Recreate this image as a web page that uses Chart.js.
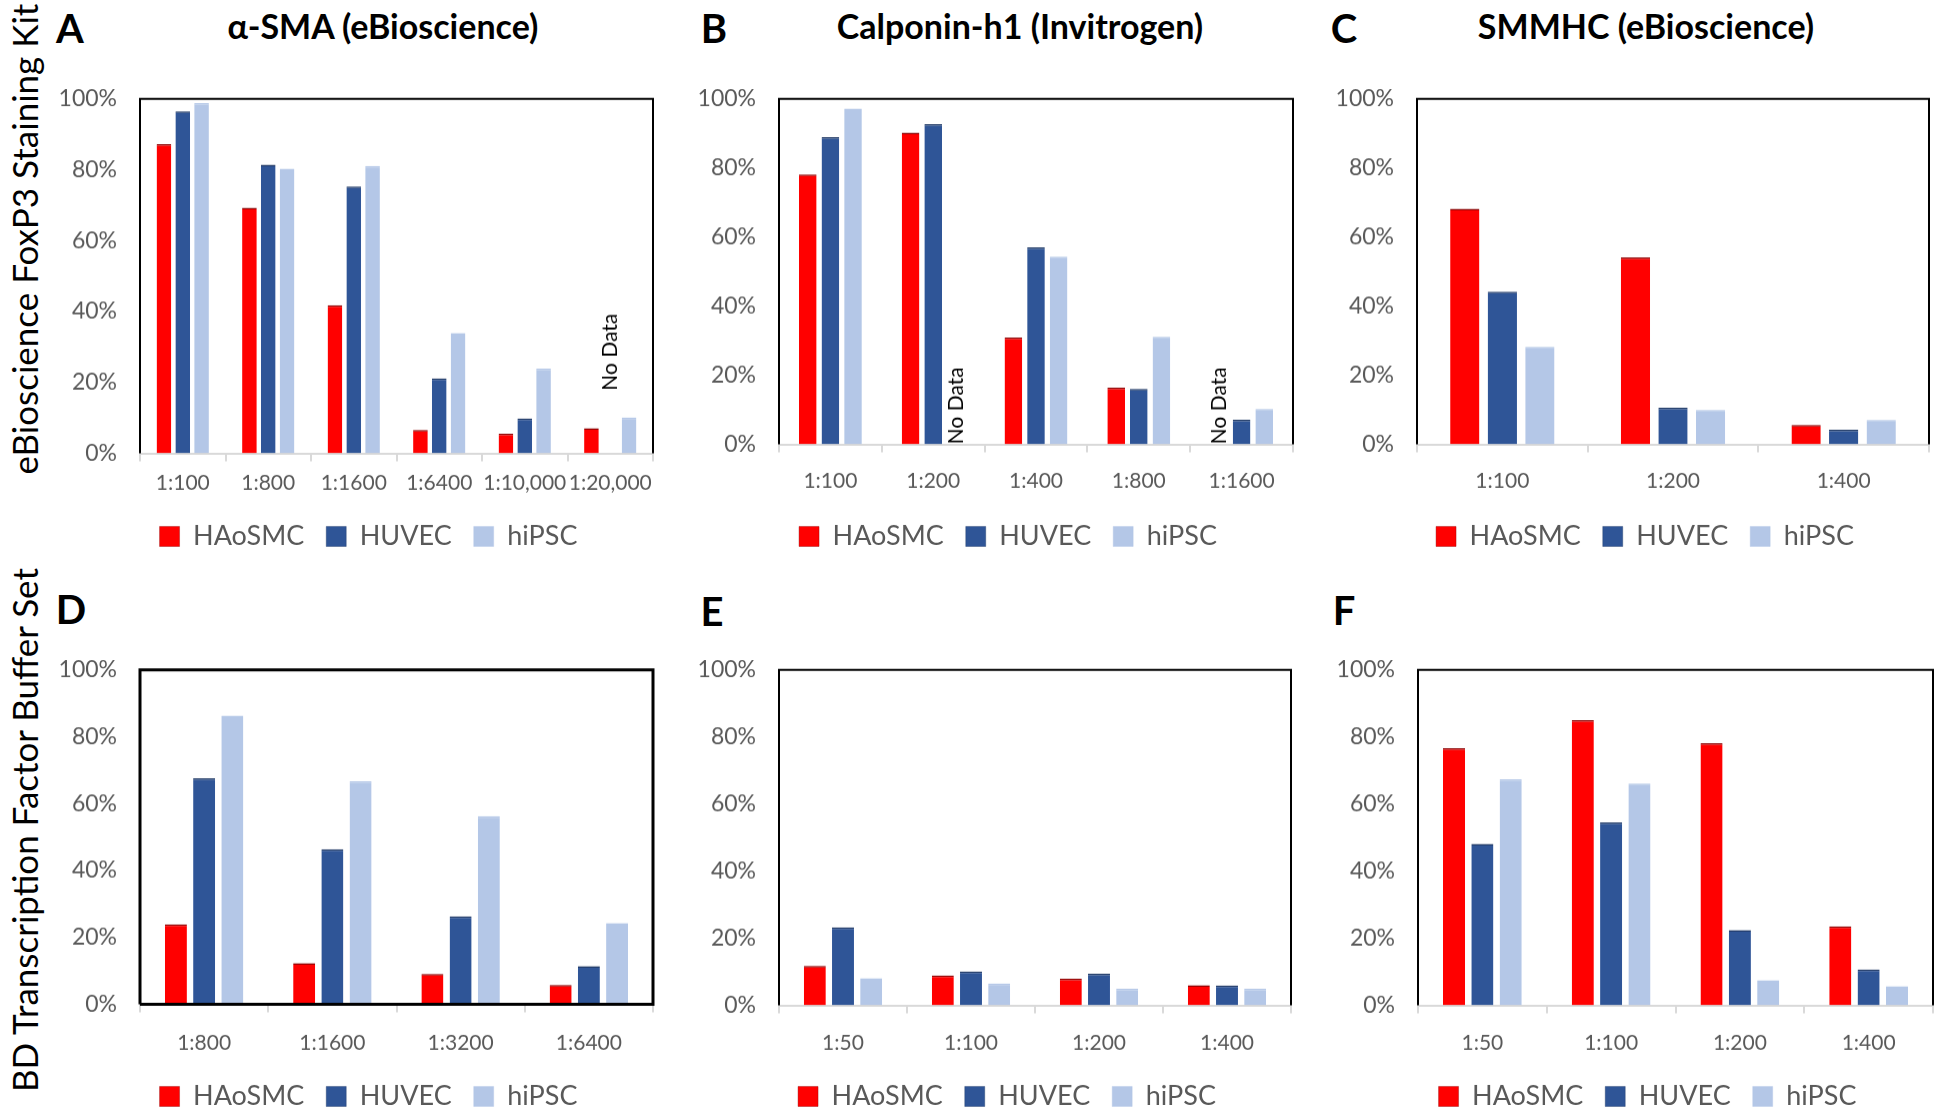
<!DOCTYPE html>
<html>
<head>
<meta charset="utf-8">
<script src="https://cdn.jsdelivr.net/npm/chart.js@4.4.1/dist/chart.umd.min.js"></script>
<style>
  html, body { margin: 0; padding: 0; background: #fff; }
  #page { position: relative; width: 1945px; height: 1119px; overflow: hidden; font-family: Lato, sans-serif; }
  canvas { position: absolute; }
  .txt { position: absolute; transform: translate(-50%, -50%); white-space: nowrap; color: #000; }
  .letter { font-size: 40px; font-weight: bold; }
  .title { font-size: 34px; font-weight: bold; }
  .side { font-size: 35px; transform: translate(-50%, -50%) rotate(-90deg); }
</style>
</head>
<body>
<div id="page">
  <div class="txt letter" style="left:70px;top:28px">A</div>
  <div class="txt letter" style="left:714px;top:28px">B</div>
  <div class="txt letter" style="left:1344px;top:28px">C</div>
  <div class="txt letter" style="left:71px;top:609px">D</div>
  <div class="txt letter" style="left:712px;top:611px">E</div>
  <div class="txt letter" style="left:1344px;top:610px">F</div>
  <div class="txt title" style="left:383px;top:25px">α-SMA (eBioscience)</div>
  <div class="txt title" style="left:1020px;top:25px">Calponin-h1 (Invitrogen)</div>
  <div class="txt title" style="left:1646px;top:25px">SMMHC (eBioscience)</div>
  <div class="txt side" style="left:24px;top:239px">eBioscience FoxP3 Staining Kit</div>
  <div class="txt side" style="left:24px;top:830px">BD Transcription Factor Buffer Set</div>
  <canvas id="chartA"></canvas>
  <canvas id="chartB"></canvas>
  <canvas id="chartC"></canvas>
  <canvas id="chartD"></canvas>
  <canvas id="chartE"></canvas>
  <canvas id="chartF"></canvas>
</div>
<script>
const seriesNames = ['HAoSMC', 'HUVEC', 'hiPSC'];
const seriesColors = ['#FF0000', '#2F5597', '#B4C7E7'];
const seriesEdges = ['#8B0000', '#1F3864', '#B4C7E7'];
const yTicks = [0, 20, 40, 60, 80, 100];

// A: alpha-SMA (eBioscience), eBioscience kit
const aLabels = ['1:100', '1:800', '1:1600', '1:6400', '1:10,000', '1:20,000'];
const aHAoSMC = [87.2, 69.3, 41.8, 6.6, 5.5, 7.1];
const aHUVEC = [96.5, 81.4, 75.3, 21.1, 9.8, null];
const aHiPSC = [98.8, 80.3, 81.1, 33.9, 23.9, 10.1];

// B: Calponin-h1 (Invitrogen)
const bLabels = ['1:100', '1:200', '1:400', '1:800', '1:1600'];
const bHAoSMC = [78.1, 90.2, 30.9, 16.4, null];
const bHUVEC = [88.9, 92.7, 57.0, 16.0, 7.1];
const bHiPSC = [97.2, null, 54.3, 31.1, 10.2];

// C: SMMHC (eBioscience)
const cLabels = ['1:100', '1:200', '1:400'];
const cHAoSMC = [68.2, 54.1, 5.6];
const cHUVEC = [44.2, 10.6, 4.2];
const cHiPSC = [28.2, 9.9, 7.0];

// D: BD buffer set, alpha-SMA
const dLabels = ['1:800', '1:1600', '1:3200', '1:6400'];
const dHAoSMC = [23.9, 12.3, 9.1, 5.8];
const dHUVEC = [67.6, 46.4, 26.3, 11.4];
const dHiPSC = [86.3, 66.7, 56.3, 24.3];

// E: BD buffer set, Calponin-h1
const eLabels = ['1:50', '1:100', '1:200', '1:400'];
const eHAoSMC = [11.7, 8.9, 7.9, 6.0];
const eHUVEC = [23.2, 10.1, 9.4, 5.9];
const eHiPSC = [8.1, 6.5, 4.9, 4.9];

// F: BD buffer set, SMMHC
const fLabels = ['1:50', '1:100', '1:200', '1:400'];
const fHAoSMC = [76.6, 85.0, 78.1, 23.5];
const fHUVEC = [48.1, 54.5, 22.4, 10.7];
const fHiPSC = [67.4, 66.1, 7.5, 5.7];

// rotated "No Data" notes sitting on a missing bar slot
const noDataPlugin = {
    id: 'noData',
    afterDatasetsDraw(chart, args, opts) {
        if (!opts.items) return;
        const ctx = chart.ctx;
        opts.items.forEach(item => {
            const el = chart.getDatasetMeta(item.dataset).data[item.index];
            const y = chart.scales.y.getPixelForValue(item.from);
            ctx.save();
            ctx.translate(el.x, y);
            ctx.rotate(-Math.PI / 2);
            ctx.font = '21px Lato';
            ctx.fillStyle = '#000';
            ctx.textAlign = 'left';
            ctx.textBaseline = 'middle';
            ctx.fillText('No Data', 0, 0);
            ctx.restore();
        });
    }
};

// black frame round the plot area (bottom stays the grey axis unless asked)
const framePlugin = {
    id: 'frame',
    afterDraw(chart, args, opts) {
        const a = chart.chartArea;
        const ctx = chart.ctx;
        ctx.save();
        ctx.strokeStyle = '#000';
        ctx.lineWidth = opts.width || 2;
        ctx.beginPath();
        ctx.moveTo(a.left, a.bottom);
        ctx.lineTo(a.left, a.top);
        ctx.lineTo(a.right, a.top);
        ctx.lineTo(a.right, a.bottom);
        if (opts.closed) ctx.lineTo(a.left, a.bottom);
        ctx.stroke();
        ctx.restore();
    }
};

// the legend row sits a bit right of where chart.js centres it
const legendShift = {
    id: 'legendShift',
    afterLayout(chart) {
        if (!chart.legend) return;
        chart.legend.left += 18;
        chart.legend.right += 18;
    }
};

const padL = 10, yAxisW = 92, padR = 12, padTop = 30, legendPad = 22;
const legendH = 27 + legendPad + 10;

function makePanel(id, box, labels, s1, s2, s3, extra) {
    const canvas = document.getElementById(id);
    const left = box.l - yAxisW - padL;
    const width = box.r + padR - left;
    const top = box.t - padTop;
    const legendTop = box.legendY - legendPad - 13.5;
    const xAxisH = legendTop - box.b;
    const height = legendTop + legendH - top;
    canvas.style.left = left + 'px';
    canvas.style.top = top + 'px';
    canvas.style.width = width + 'px';
    canvas.style.height = height + 'px';
    canvas.width = width;
    canvas.height = height;

    const values = [s1, s2, s3];
    return new Chart(canvas.getContext('2d'), {
        type: 'bar',
        data: {
            labels: labels,
            datasets: seriesNames.map((name, i) => ({
                label: name,
                data: values[i],
                backgroundColor: seriesColors[i],
                borderColor: seriesEdges[i],
                borderWidth: { top: 1.5, left: 0, right: 0, bottom: 0 },
                borderSkipped: 'start',
                categoryPercentage: 0.66,
                barPercentage: 0.78
            }))
        },
        options: {
            responsive: false,
            animation: false,
            devicePixelRatio: 1,
            layout: { padding: { left: padL, right: padR, top: padTop, bottom: 0 } },
            scales: {
                x: {
                    grid: { drawOnChartArea: false, tickLength: 8, color: '#D9D9D9', lineWidth: 2 },
                    border: { color: '#D9D9D9', width: 2 },
                    ticks: {
                        color: '#595959',
                        font: { family: 'Lato', size: 21 },
                        padding: box.labelY - box.b - 8 - 12,
                        maxRotation: 0,
                        autoSkip: false
                    },
                    afterFit: s => { s.height = xAxisH; }
                },
                y: {
                    min: 0,
                    max: 100,
                    grid: { display: false, drawTicks: false },
                    border: { display: false },
                    afterBuildTicks: s => { s.ticks = yTicks.map(v => ({ value: v })); },
                    ticks: {
                        color: '#595959',
                        font: { family: 'Lato', size: 23 },
                        padding: 23,
                        callback: v => v + '%'
                    },
                    afterFit: s => { s.width = yAxisW; }
                }
            },
            plugins: {
                legend: {
                    position: 'bottom',
                    labels: {
                        color: '#595959',
                        font: { family: 'Lato', size: 27 },
                        boxWidth: 20,
                        boxHeight: 20,
                        padding: legendPad
                    }
                },
                tooltip: { enabled: false },
                noData: { items: (extra && extra.noData) || [] },
                frame: { width: (extra && extra.frameWidth) || 2, closed: !!(extra && extra.closed) }
            }
        },
        plugins: [noDataPlugin, framePlugin, legendShift]
    });
}

makePanel('chartA', { l: 140, r: 653, t: 92, b: 453, labelY: 482, legendY: 536 },
    aLabels, aHAoSMC, aHUVEC, aHiPSC,
    { noData: [{ dataset: 1, index: 5, from: 17.7 }] });
makePanel('chartB', { l: 779, r: 1293, t: 92, b: 444, labelY: 480, legendY: 536 },
    bLabels, bHAoSMC, bHUVEC, bHiPSC,
    { noData: [{ dataset: 2, index: 1, from: 0 }, { dataset: 0, index: 4, from: 0 }] });
makePanel('chartC', { l: 1417, r: 1929, t: 92, b: 444, labelY: 480, legendY: 536 },
    cLabels, cHAoSMC, cHUVEC, cHiPSC);
makePanel('chartD', { l: 140, r: 653, t: 663, b: 1004, labelY: 1042, legendY: 1096 },
    dLabels, dHAoSMC, dHUVEC, dHiPSC,
    { frameWidth: 3, closed: true });
makePanel('chartE', { l: 779, r: 1291, t: 663, b: 1005, labelY: 1042, legendY: 1096 },
    eLabels, eHAoSMC, eHUVEC, eHiPSC);
makePanel('chartF', { l: 1418, r: 1933, t: 663, b: 1005, labelY: 1042, legendY: 1096 },
    fLabels, fHAoSMC, fHUVEC, fHiPSC);
</script>
</body>
</html>
